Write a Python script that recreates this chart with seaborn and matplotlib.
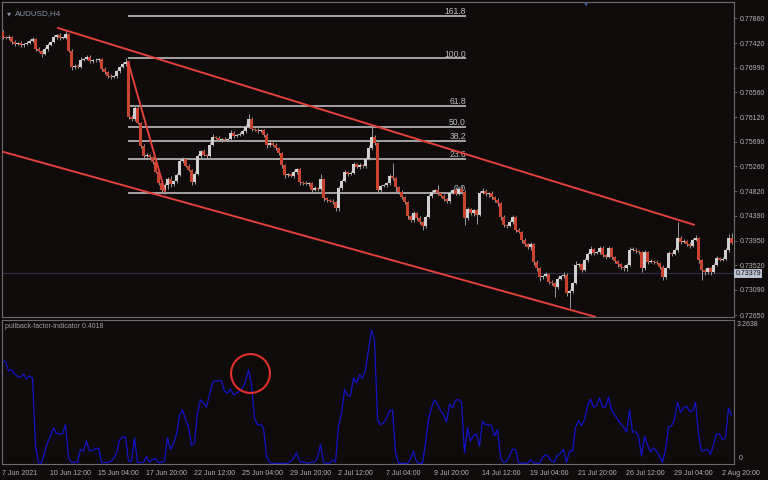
import matplotlib

matplotlib.use("Agg")
import matplotlib.pyplot as plt
import matplotlib.transforms as mtransforms
import numpy as np
import pandas as pd
import seaborn as sns

# ---- data (AUDUSD, H4) ----
symbol = "AUDUSD,H4"
first_open = 0.7762
closes = [
    0.7753, 0.7751, 0.7753, 0.7744, 0.7741, 0.7743, 0.7739, 0.7741, 0.7743, 0.7746,
    0.7750, 0.7732, 0.7729, 0.7723, 0.7732, 0.7739, 0.7744, 0.7753, 0.7757, 0.7751,
    0.7752, 0.7758, 0.7729, 0.7700, 0.7702, 0.7701, 0.7713, 0.7714, 0.7718, 0.7711,
    0.7713, 0.7712, 0.7714, 0.7697, 0.7692, 0.7685, 0.7683, 0.7684, 0.7693, 0.7700,
    0.7706, 0.7709, 0.7613, 0.7609, 0.7628, 0.7602, 0.7562, 0.7544, 0.7546, 0.7542,
    0.7534, 0.7516, 0.7497, 0.7484, 0.7493, 0.7504, 0.7495, 0.7500, 0.7511, 0.7535,
    0.7539, 0.7527, 0.7520, 0.7498, 0.7513, 0.7544, 0.7553, 0.7546, 0.7544, 0.7564,
    0.7578, 0.7576, 0.7572, 0.7574, 0.7573, 0.7574, 0.7585, 0.7579, 0.7581, 0.7583,
    0.7588, 0.7595, 0.7609, 0.7592, 0.7590, 0.7588, 0.7589, 0.7581, 0.7563, 0.7567,
    0.7564, 0.7558, 0.7549, 0.7528, 0.7511, 0.7512, 0.7509, 0.7516, 0.7521, 0.7498,
    0.7497, 0.7495, 0.7496, 0.7484, 0.7488, 0.7486, 0.7504, 0.7470, 0.7467, 0.7466,
    0.7463, 0.7453, 0.7488, 0.7500, 0.7516, 0.7512, 0.7515, 0.7530, 0.7525, 0.7529,
    0.7526, 0.7539, 0.7558, 0.7578, 0.7567, 0.7484, 0.7491, 0.7493, 0.7496, 0.7509,
    0.7505, 0.7490, 0.7481, 0.7472, 0.7463, 0.7439, 0.7432, 0.7444, 0.7435, 0.7428,
    0.7421, 0.7437, 0.7474, 0.7481, 0.7484, 0.7479, 0.7474, 0.7468, 0.7465, 0.7479,
    0.7484, 0.7478, 0.7486, 0.7481, 0.7435, 0.7451, 0.7444, 0.7449, 0.7441, 0.7479,
    0.7483, 0.7477, 0.7479, 0.7472, 0.7467, 0.7461, 0.7437, 0.7423, 0.7421, 0.7428,
    0.7437, 0.7414, 0.7411, 0.7397, 0.7390, 0.7384, 0.7390, 0.7358, 0.7347, 0.7332,
    0.7333, 0.7337, 0.7323, 0.7321, 0.7314, 0.7328, 0.7333, 0.7336, 0.7304, 0.7307,
    0.7321, 0.7353, 0.7354, 0.7344, 0.7361, 0.7372, 0.7381, 0.7374, 0.7375, 0.7383,
    0.7370, 0.7367, 0.7382, 0.7366, 0.7360, 0.7354, 0.7349, 0.7347, 0.7353, 0.7379,
    0.7380, 0.7377, 0.7375, 0.7347, 0.7376, 0.7358, 0.7360, 0.7358, 0.7356, 0.7349,
    0.7332, 0.7348, 0.7374, 0.7372, 0.7379, 0.7400, 0.7393, 0.7395, 0.7390, 0.7386,
    0.7397, 0.7400, 0.7361, 0.7344, 0.7340, 0.7347, 0.7341, 0.7353, 0.7365, 0.7362,
    0.7363, 0.7379, 0.7400, 0.7391,
]
# wick lengths beyond the body, in pips
upper_wick = [
    3, 2, 4, 2, 3, 2, 3, 2, 3, 4, 3, 2, 3, 2, 3, 4, 2, 3, 2, 3,
    2, 8, 2, 3, 4, 3, 5, 2, 4, 3, 2, 3, 2, 2, 3, 2, 3, 2, 3, 2,
    3, 7, 2, 4, 6, 3, 2, 4, 3, 2, 3, 2, 3, 2, 4, 3, 5, 2, 3, 4,
    3, 2, 3, 2, 4, 3, 2, 3, 2, 4, 4, 2, 3, 2, 3, 2, 4, 3, 2, 3,
    3, 5, 9, 3, 2, 3, 2, 2, 3, 4, 2, 3, 2, 2, 3, 2, 3, 4, 3, 3,
    2, 3, 2, 2, 3, 2, 8, 2, 3, 2, 2, 3, 3, 4, 3, 2, 3, 4, 2, 3,
    2, 3, 5, 20, 3, 2, 3, 2, 3, 4, 23, 3, 2, 3, 2, 3, 2, 4, 2, 3,
    2, 3, 4, 3, 3, 9, 2, 3, 2, 4, 3, 6, 3, 5, 3, 3, 2, 3, 3, 4,
    5, 3, 2, 3, 2, 3, 2, 3, 2, 3, 4, 2, 3, 2, 3, 2, 4, 2, 3, 2,
    3, 4, 2, 3, 2, 4, 3, 5, 3, 3, 2, 6, 3, 2, 4, 3, 5, 2, 3, 4,
    3, 2, 4, 2, 3, 2, 2, 3, 3, 6, 5, 2, 3, 2, 4, 2, 3, 2, 3, 2,
    3, 2, 4, 2, 3, 28, 3, 4, 2, 3, 4, 5, 2, 3, 2, 3, 2, 4, 3, 2,
    3, 4, 7, 9,
]
lower_wick = [
    3, 2, 3, 4, 3, 2, 4, 3, 2, 3, 2, 3, 3, 5, 2, 3, 2, 2, 3, 3,
    2, 3, 3, 4, 3, 2, 3, 2, 2, 3, 3, 2, 2, 3, 4, 4, 3, 2, 2, 3,
    2, 3, 3, 4, 3, 2, 3, 4, 2, 3, 3, 2, 4, 5, 7, 6, 6, 4, 3, 2,
    3, 2, 3, 4, 3, 2, 3, 2, 4, 2, 3, 2, 2, 3, 2, 3, 2, 3, 2, 2,
    2, 3, 2, 4, 2, 3, 2, 3, 4, 3, 2, 3, 3, 4, 5, 3, 2, 3, 3, 4,
    3, 2, 3, 4, 2, 3, 3, 4, 3, 2, 3, 5, 6, 3, 2, 3, 2, 3, 2, 3,
    2, 3, 2, 3, 3, 4, 3, 2, 3, 2, 3, 10, 3, 4, 3, 5, 4, 3, 3, 4,
    7, 3, 2, 3, 2, 3, 2, 3, 4, 3, 2, 3, 2, 3, 12, 4, 3, 5, 17, 3,
    2, 3, 4, 3, 3, 4, 5, 4, 3, 2, 3, 4, 2, 5, 4, 3, 4, 5, 4, 8,
    3, 2, 4, 3, 17, 3, 2, 3, 6, 27, 3, 2, 3, 4, 2, 3, 2, 3, 2, 3,
    3, 4, 2, 3, 3, 4, 3, 5, 4, 2, 2, 3, 3, 6, 3, 3, 2, 3, 2, 4,
    6, 3, 2, 3, 2, 3, 3, 2, 3, 3, 2, 2, 4, 17, 5, 3, 6, 3, 2, 3,
    3, 2, 3, 2,
]
pullback_factor = [
    2.32, 2.32, 2.11, 2.13, 2.04, 1.98, 1.96, 2.04, 1.92, 1.99,
    1.94, 0.39, 0.02, 0.00, 0.24, 0.47, 0.62, 0.81, 0.68, 0.67,
    0.68, 0.88, 0.13, 0.02, 0.03, 0.03, 0.32, 0.28, 0.51, 0.28,
    0.30, 0.33, 0.35, 0.02, 0.02, 0.02, 0.04, 0.11, 0.24, 0.53,
    0.60, 0.60, 0.05, 0.05, 0.58, 0.02, 0.02, 0.02, 0.15, 0.03,
    0.09, 0.11, 0.02, 0.02, 0.05, 0.58, 0.32, 0.45, 0.66, 1.09,
    1.22, 1.00, 0.83, 0.41, 0.47, 1.15, 1.45, 1.37, 1.28, 1.56,
    1.84, 1.88, 1.88, 1.88, 1.64, 1.60, 1.69, 1.56, 1.60, 1.64,
    1.71, 1.87, 2.13, 1.79, 1.03, 0.88, 0.88, 0.81, 0.17, 0.02,
    0.00, 0.00, 0.00, 0.00, 0.00, 0.00, 0.05, 0.11, 0.24, 0.05,
    0.03, 0.02, 0.00, 0.02, 0.03, 0.13, 0.43, 0.02, 0.00, 0.00,
    0.08, 0.02, 0.85, 1.11, 1.68, 1.54, 1.54, 1.94, 1.83, 2.02,
    1.94, 2.13, 2.58, 3.04, 2.81, 1.00, 0.88, 0.92, 1.03, 1.19,
    1.22, 0.24, 0.00, 0.00, 0.00, 0.00, 0.09, 0.28, 0.03, 0.00,
    0.00, 0.47, 1.00, 1.26, 1.45, 1.34, 1.21, 1.11, 0.94, 1.34,
    1.26, 1.44, 1.45, 1.39, 0.24, 0.81, 0.51, 0.63, 0.67, 0.39,
    0.96, 0.88, 0.88, 0.86, 0.62, 0.77, 0.13, 0.02, 0.04, 0.17,
    0.32, 0.32, 0.02, 0.00, 0.00, 0.00, 0.08, 0.02, 0.00, 0.00,
    0.13, 0.20, 0.15, 0.05, 0.03, 0.19, 0.23, 0.32, 0.02, 0.28,
    0.28, 0.81, 0.97, 0.86, 1.00, 1.30, 1.47, 1.28, 1.31, 1.49,
    1.28, 1.28, 1.51, 1.21, 1.11, 1.00, 0.91, 0.83, 0.71, 1.22,
    0.71, 0.72, 0.62, 0.17, 0.62, 0.41, 0.26, 0.35, 0.28, 0.17,
    0.02, 0.32, 0.83, 0.85, 1.00, 1.39, 1.16, 1.26, 1.30, 1.19,
    1.19, 1.39, 0.66, 0.28, 0.30, 0.32, 0.20, 0.43, 0.66, 0.67,
    0.54, 0.58, 1.26, 1.09,
]
indicator_name = "pullback-factor-indicator 0.4018"
indicator_max = 3.2638

date_labels = [
    "7 Jun 2021", "10 Jun 12:00", "15 Jun 04:00", "17 Jun 20:00", "22 Jun 12:00",
    "25 Jun 04:00", "29 Jun 20:00", "2 Jul 12:00", "7 Jul 04:00", "9 Jul 20:00",
    "14 Jul 12:00", "19 Jul 04:00", "21 Jul 20:00", "26 Jul 12:00", "29 Jul 04:00",
    "2 Aug 20:00",
]
bars_per_label = 16
price_ticks = [0.77860, 0.77420, 0.76990, 0.76560, 0.76120, 0.75690, 0.75260,
               0.74820, 0.74390, 0.73950, 0.73520, 0.73090, 0.72650]
current_price = 0.73379

fib_labels = ["161.8", "100.0", "61.8", "50.0", "38.2", "23.6", "0.0"]
fib_prices = [0.77905, 0.77157, 0.76325, 0.75956, 0.75710, 0.75389, 0.74801]
fib_from_bar, fib_to_bar = 41.8, 154.5

# trend lines: (bar, price) -> (bar, price)
channel_upper = [(18.2, 0.77695), (230.8, 0.74230)]
channel_lower = [(-0.8, 0.75530), (197.8, 0.72615)]
swing_line = [(41.8, 0.77110), (54.2, 0.74809)]
circled_point = (82.4, 2.06)

PIP = 0.0001

# ---- styling ----
BG = "#0e0b0a"
EDGE = "#6c6c6c"
TXT = "#b4b4b4"
BULL = "#cfcfcf"
BEAR = "#c9432f"
WICK = "#9a9a9a"
FIB = "#bdbdbd"
TREND = "#e2403a"
IND = "#1414c8"

sns.set_theme(style="dark", rc={
    "figure.facecolor": BG,
    "axes.facecolor": BG,
    "axes.edgecolor": EDGE,
    "axes.linewidth": 0.8,
    "xtick.color": EDGE,
    "ytick.color": EDGE,
})
plt.rcParams["font.family"] = ["Liberation Sans", "DejaVu Sans"]

df = pd.DataFrame({"bar": np.arange(len(closes)), "close": closes})
df["open"] = [first_open] + closes[:-1]
df["top"] = df[["open", "close"]].max(axis=1)
df["base"] = df[["open", "close"]].min(axis=1)
df["high"] = df["top"] + np.array(upper_wick) * PIP
df["low"] = df["base"] - np.array(lower_wick) * PIP
df["body"] = (df["top"] - df["base"]).clip(lower=0.00014)
df["bull"] = df["close"] >= df["open"]

W, H = 768, 480
fig = plt.figure(figsize=(W / 100, H / 100), dpi=100)
ax = fig.add_axes([2 / W, 1 - 317 / H, 732 / W, 315 / H])
axi = fig.add_axes([2 / W, 1 - 464 / H, 732 / W, 144 / H], sharex=ax)

xlim = (-0.5 / 3, 731.5 / 3)

# fibonacci levels (behind the candles)
ax.hlines(fib_prices, fib_from_bar, fib_to_bar, color=FIB, lw=1.2, zorder=1)
for lab, p in zip(fib_labels, fib_prices):
    ax.annotate(lab, (fib_to_bar, p), xytext=(0, 1.2), textcoords="offset points",
                ha="right", va="baseline", color=FIB, fontsize=6.2, zorder=1)

ax.axhline(current_price, color="#2c2c48", lw=0.9, zorder=1)

# candles
ax.vlines(df["bar"], df["low"], df["high"], color=WICK, lw=0.7, zorder=2)
up = df[df["bull"]]
dn = df[~df["bull"]]
ax.bar(up["bar"], up["body"], bottom=up["base"], width=0.68, color=BULL, lw=0, zorder=3)
ax.bar(dn["bar"], dn["body"], bottom=dn["base"], width=0.68, color=BEAR, lw=0, zorder=3)

for line in (channel_upper, channel_lower, swing_line):
    (x0, y0), (x1, y1) = line
    ax.plot([x0, x1], [y0, y1], color=TREND, lw=1.4, solid_capstyle="butt", zorder=4)

ax.set_xlim(*xlim)
ax.set_ylim(0.72615, 0.78146)
ax.yaxis.tick_right()
ax.set_yticks(price_ticks)
ax.set_yticklabels([f"{p:.5f}" for p in price_ticks])
ax.tick_params(axis="y", length=2.5, width=0.6, pad=1.5, labelsize=5, labelcolor=TXT)
ax.tick_params(axis="x", bottom=False, labelbottom=False)
ax.set_xlabel("")
ax.set_ylabel("")

blend = mtransforms.blended_transform_factory(ax.transAxes, ax.transData)
ax.text(1.002, current_price, f"{current_price:.5f}", transform=blend, ha="left", va="center",
        fontsize=5, color="#0c0c18",
        bbox=dict(boxstyle="square,pad=0.2", fc="#b9c1d2", ec="none"))

ax.text(5 / 732, 1 - 12 / 315, "\u25bc", transform=ax.transAxes, ha="left", va="center",
        fontsize=3.8, color="#8a94a8", family="DejaVu Sans")
ax.text(13 / 732, 1 - 12 / 315, symbol, transform=ax.transAxes, ha="left", va="center",
        fontsize=5.8, color="#8a94a8")
ax.text((586 - 2) / 732, 1.0, "\u25bc", transform=ax.transAxes, ha="center", va="top",
        fontsize=4, color="#4c5894", family="DejaVu Sans")

# indicator panel
sns.lineplot(x=df["bar"], y=pullback_factor, ax=axi, color=IND, lw=0.9)
axi.plot([circled_point[0]], [circled_point[1]], marker="o", ms=28, mfc="none",
         mec="#e0302c", mew=1.5, zorder=5)
axi.set_ylim(-0.015, indicator_max)
axi.set_xlim(*xlim)
axi.set_yticks([])
axi.set_ylabel("")
axi.set_xlabel("")
ticks = list(range(0, bars_per_label * len(date_labels), bars_per_label))
axi.set_xticks(ticks)
axi.set_xticklabels(date_labels, ha="left")
axi.tick_params(axis="x", length=2.5, width=0.6, pad=1.5, labelsize=5, labelcolor=TXT)
axi.text(3 / 732, 1 - 3 / 144, indicator_name, transform=axi.transAxes, ha="left", va="top",
         fontsize=5, color="#a0a0a0")
axi.text(1.004, 1 - 1.5 / 144, f"{indicator_max:.4f}", transform=axi.transAxes,
         ha="left", va="top", fontsize=5, color=TXT)
axi.text(1.006, 2 / 144, "0", transform=axi.transAxes, ha="left", va="bottom",
         fontsize=5, color=TXT)

fig.savefig("out.png", dpi=100, facecolor=BG)
